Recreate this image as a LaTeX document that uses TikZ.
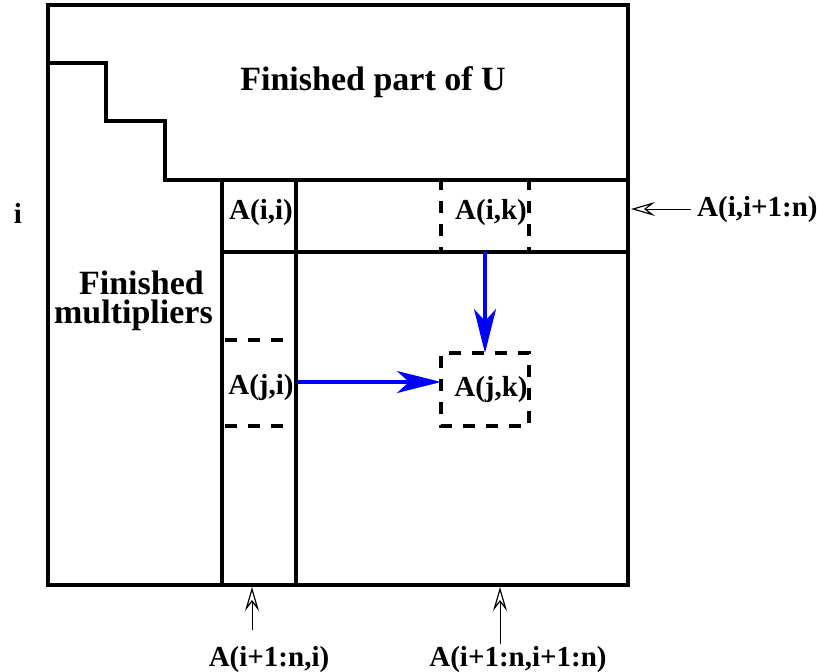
\documentclass[tikz,border=0pt]{standalone}
\usepackage{fontspec}
\setmainfont{Liberation Serif}
\usetikzlibrary{arrows.meta}
\tikzset{
  frame/.style={line width=3.5pt, line join=miter, line cap=rect},
  dashline/.style={line width=3.5pt, dash pattern=on 12pt off 11pt},
  bluearrow/.style={draw=blue, line width=3.5pt, -{Stealth[length=44pt, width=22pt, inset=12pt]}, fill=blue},
  thinarrow/.style={line width=1pt, -{Stealth[open, length=24pt, width=14pt, inset=9pt, line width=1.2pt]}},
  small/.style={inner sep=0pt, font=\fontsize{29}{32}\selectfont\bfseries},
  big/.style={inner sep=0pt, font=\fontsize{34}{38}\selectfont\bfseries},
}
\begin{document}
\begin{tikzpicture}[x=1pt, y=-1pt]
\useasboundingbox (0,0) rectangle (817,672);
% main frame
\draw[frame] (48,5) rectangle (628,585);
% staircase
\draw[frame] (48,63) -- (106,63) -- (106,121) -- (165,121) -- (165,180) -- (628,180);
% column / row of step i
\draw[frame] (222,180) -- (222,585);
\draw[frame] (296,180) -- (296,585);
\draw[frame] (222,252) -- (628,252);
% dashed cells
\draw[dashline, dash phase=2pt] (441,180) -- (441,252);
\draw[dashline, dash phase=2pt] (529,180) -- (529,252);
\draw[dashline, dash phase=-3pt] (222,340) -- (296,340);
\draw[dashline, dash phase=-3pt] (222,426) -- (296,426);
\draw[dashline, dash phase=-3pt] (441,353) rectangle (529,426);
% labels
\node[big] (fu) at (373,82) {Finished part of U};
\node[big, anchor=east] (fin) at (204,283) {Finished};
\node[big, anchor=east] (mul) at (213,315) {multipliers};
\node[small] (irow) at (18,213) {i};
\node[small] (aii) at (261,213) {A(i,i)};
\node[small] (aik) at (491,213) {A(i,k)};
\node[small] (aji) at (261,388) {A(j,i)};
\node[small] (ajk) at (491,390) {A(j,k)};
\node[small, anchor=west] (lrow) at (697,210) {A(i,i+1:n)};
\node[small] (lcol) at (269,660) {A(i+1:n,i)};
\node[small] (lsub) at (518,660) {A(i+1:n,i+1:n)};
% connector coordinates
\coordinate (ikbot) at (485,252);
\coordinate (jktop) at (485,353);
\coordinate (jiright) at (297,382);
\coordinate (jkleft) at (441,382);
\coordinate (rowtip) at (631,209);
\coordinate (rowtail) at (lrow.west |- rowtip);
\coordinate (coltip) at (252,587);
\coordinate (coltail) at (252,630);
\coordinate (subtip) at (500,587);
\coordinate (subtail) at (500,644);
% blue arrows
\draw[bluearrow] (ikbot) -- (jktop);
\draw[bluearrow] (jiright) -- (jkleft);
% thin arrows
\draw[thinarrow] ([xshift=-6pt]rowtail) -- (rowtip);
\draw[thinarrow] (coltail) -- (coltip);
\draw[thinarrow] (subtail) -- (subtip);
\end{tikzpicture}
\end{document}
